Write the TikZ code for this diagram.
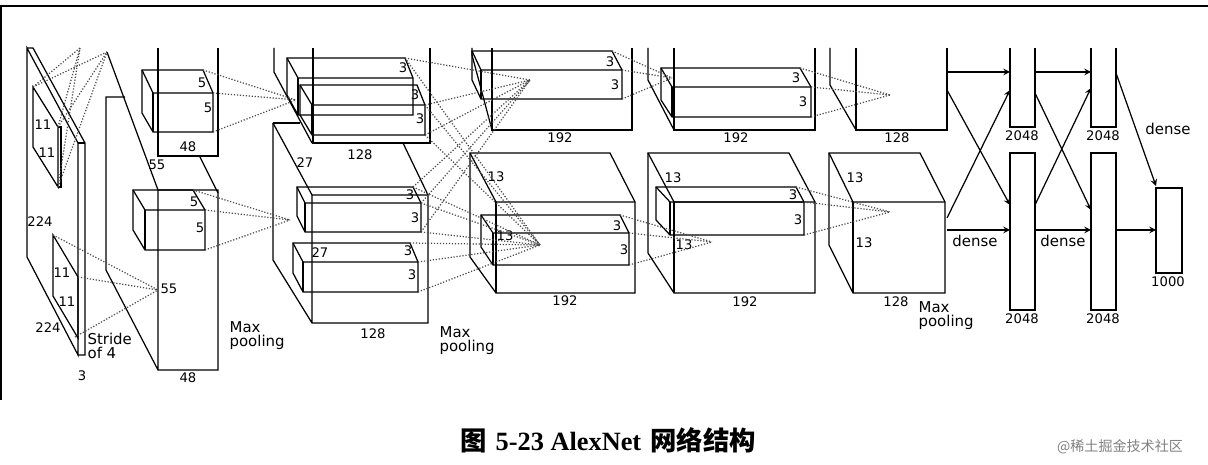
\documentclass[tikz,border=0pt]{standalone}
\usepackage{fontspec}
\setmainfont{DejaVu Sans}
\newfontfamily\cjk{Noto Sans CJK SC}
\newfontfamily\capserif{Liberation Serif}
\begin{document}
\begin{tikzpicture}[x=0.02cm,y=-0.02cm,line width=0.7pt,
  lab/.style={font=\fontsize{7.5}{8}\selectfont,inner sep=0pt},
  big/.style={font=\fontsize{8.5}{10}\selectfont,inner sep=0pt,align=left},
  dots/.style={densely dotted,gray!60!black,line width=0.7pt},
  arr/.style={-stealth}]
\useasboundingbox (0,0) rectangle (1208,465);
% frame
\draw (1,400) -- (1,6) -- (1208,6);
% ---------- input
\draw (27,48) -- (78,143) -- (78,355) -- (27,257) -- cycle;
\draw (27,48) -- (33,48) -- (85,143) -- (85,355) -- (78,355);
\draw (78,143) -- (85,143);
\draw (33,87) -- (58,127) -- (58,187) -- (33,147) -- cycle;
\draw (58,127) -- (61,127) -- (61,187) -- (58,187);
\draw (53,235) -- (78,277) -- (78,338) -- (53,296) -- cycle;
\node[lab] at (43,125) {11}; \node[lab] at (47,153) {11};
\node[lab] at (62,273) {11}; \node[lab] at (67,302) {11};
\node[lab] at (40,222) {224}; \node[lab] at (48,328) {224};
\node[lab] at (82,376) {3};
\node[big,anchor=west] at (87,346) {Stride\\[-2pt]of 4};
% ---------- layer 1
\draw (107,52) -- (158,190);
\draw (158,48) -- (158,156) -- (218,156) -- (218,48);
\draw (125,97) -- (106,97) -- (106,270) -- (158,370) -- (218,370) -- (218,190) -- (158,190) -- (158,370);
\draw (200,157) -- (218,193);
\draw (142,70) -- (203,70) -- (213,93) -- (213,132) -- (153,132) -- (142,113) -- cycle;
\draw (142,70) -- (153,93) -- (213,93); \draw (153,93) -- (153,132);
\draw (133,190) -- (193,190) -- (205,210) -- (205,250) -- (145,250) -- (133,230) -- cycle;
\draw (133,190) -- (145,210) -- (205,210); \draw (145,210) -- (145,250);
\node[lab] at (202,83) {5}; \node[lab] at (208,108) {5};
\node[lab] at (194,202) {5}; \node[lab] at (200,228) {5};
\node[lab] at (157,165) {55}; \node[lab] at (169,289) {55};
\node[lab] at (188,147) {48}; \node[lab] at (188,378) {48};
\node[big,anchor=west] at (229,336) {Max\\[-2pt]pooling};
% ---------- layer 2
\draw (274,48) -- (274,72) -- (312,143);
\draw (313,48) -- (313,143) -- (430,143) -- (430,48);
\draw (273,123) -- (273,260) -- (312,323) -- (428,323) -- (428,195) -- (312,195) -- (312,323);
\draw (273,123) -- (312,195); \draw (273,123) -- (300,123); \draw (403,143) -- (428,195);
\foreach \a/\b/\c/\d/\e/\f in {287/405/58/298/78/115, 300/417/85/312/105/135, 297/413/187/305/203/232, 293/410/243/303/262/292}{
  \draw (\a,\c) -- (\b,\c) -- (\b+8,\e) -- (\b+8,\f) -- (\d,\f) -- (\a,\f-\e+\c) -- cycle;
  \draw (\a,\c) -- (\d,\e) -- (\b+8,\e); \draw (\d,\e) -- (\d,\f);}
\node[lab] at (403,68) {3}; \node[lab] at (415,95) {3}; \node[lab] at (420,119) {3};
\node[lab] at (410,195) {3}; \node[lab] at (415,218) {3};
\node[lab] at (408,251) {3}; \node[lab] at (412,275) {3};
\node[lab] at (305,163) {27}; \node[lab] at (320,253) {27};
\node[lab] at (360,155) {128}; \node[lab] at (373,334) {128};
\node[big,anchor=west] at (439,341) {Max\\[-2pt]pooling};
% ---------- layer 3
\draw (472,48) -- (472,55) -- (492,130);
\draw (492,48) -- (492,130) -- (632,130) -- (632,48);
\draw (470,153) -- (610,153) -- (635,202) -- (635,293) -- (496,293) -- (470,257) -- cycle;
\draw (470,153) -- (496,202) -- (635,202); \draw (496,202) -- (496,293);
\draw (472,51) -- (612,51) -- (622,70) -- (622,99) -- (481,99) -- (472,80) -- cycle;
\draw (472,51) -- (481,70) -- (622,70); \draw (481,70) -- (481,99);
\draw (481,215) -- (620,215) -- (629,233) -- (629,265) -- (493,265) -- (481,247) -- cycle;
\draw (481,215) -- (493,233) -- (629,233); \draw (493,233) -- (493,265);
\node[lab] at (610,62) {3}; \node[lab] at (615,85) {3};
\node[lab] at (617,226) {3}; \node[lab] at (624,250) {3};
\node[lab] at (496,177) {13}; \node[lab] at (505,236) {13};
\node[lab] at (560,138) {192}; \node[lab] at (565,301) {192};
% ---------- layer 4
\draw (648,48) -- (648,80) -- (674,130);
\draw (674,48) -- (674,130) -- (815,130) -- (815,48);
\draw (648,153) -- (789,153) -- (815,202) -- (815,293) -- (674,293) -- (648,253) -- cycle;
\draw (648,153) -- (674,202) -- (815,202); \draw (674,202) -- (674,293);
\draw (661,68) -- (800,68) -- (811,87) -- (811,117) -- (672,117) -- (661,100) -- cycle;
\draw (661,68) -- (672,87) -- (811,87); \draw (672,87) -- (672,117);
\draw (656,187) -- (796,187) -- (804,202) -- (804,235) -- (670,235) -- (656,220) -- cycle;
\draw (656,187) -- (670,202) -- (804,202); \draw (670,202) -- (670,235);
\node[lab] at (796,78) {3}; \node[lab] at (803,102) {3};
\node[lab] at (793,195) {3}; \node[lab] at (798,220) {3};
\node[lab] at (673,178) {13}; \node[lab] at (684,245) {13};
\node[lab] at (736,138) {192}; \node[lab] at (745,302) {192};
% ---------- layer 5
\draw (830,48) -- (830,85) -- (856,130);
\draw (856,48) -- (856,130) -- (947,130) -- (947,48);
\draw (829,153) -- (920,153) -- (945,202) -- (945,293) -- (853,293) -- (829,245) -- cycle;
\draw (829,153) -- (853,202) -- (945,202); \draw (853,202) -- (853,293);
\node[lab] at (855,178) {13}; \node[lab] at (864,243) {13};
\node[lab] at (897,138) {128}; \node[lab] at (896,302) {128};
\node[big,anchor=west] at (918,316) {Max\\[-2pt]pooling};
% ---------- dense
\draw (1010,48) -- (1010,127) -- (1035,127) -- (1035,48);
\draw (1010,153) rectangle (1035,310);
\draw (1091,48) -- (1091,127) -- (1116,127) -- (1116,48);
\draw (1091,153) rectangle (1116,310);
\draw (1156,188) rectangle (1182,273);
\node[lab] at (1022,136) {2048}; \node[lab] at (1022,319) {2048};
\node[lab] at (1103,136) {2048}; \node[lab] at (1103,319) {2048};
\node[lab] at (1168,282) {1000};
\draw[arr] (947,72) -- (1010,72);
\draw[arr] (947,90) -- (1010,205);
\draw[arr] (947,218) -- (1010,90);
\draw[arr] (947,230) -- (1010,230);
\draw[arr] (1035,72) -- (1091,72);
\draw[arr] (1035,93) -- (1091,210);
\draw[arr] (1035,205) -- (1091,88);
\draw[arr] (1035,230) -- (1091,230);
\draw[arr] (1116,73) -- (1156,186);
\draw[arr] (1116,230) -- (1156,230);
\node[big] at (975,241) {dense}; \node[big] at (1063,241) {dense};
\node[big] at (1168,129) {dense};
% ---------- dotted connections
\foreach \p in {(33,87),(58,127),(58,187)} {\draw[dots] \p -- (80,48); \draw[dots] \p -- (107,52);}
\foreach \p in {(53,235),(78,277),(75,337)} \draw[dots] \p -- (158,290);
\foreach \p in {(203,70),(213,93),(213,132)} \draw[dots] \p -- (296,100);
\foreach \p in {(193,190),(205,210),(205,250)} \draw[dots] \p -- (290,220);
\foreach \p in {(405,58),(425,105),(425,135)} {\draw[dots] \p -- (530,80); \draw[dots] \p -- (540,245);}
\foreach \p in {(413,187),(421,203),(421,232)} {\draw[dots] \p -- (530,80); \draw[dots] \p -- (540,245);}
\foreach \p in {(410,243),(418,262),(418,292)} \draw[dots] \p -- (540,245);
\foreach \p in {(612,51),(622,70),(622,99)} \draw[dots] \p -- (672,78);
\foreach \p in {(620,215),(629,233),(629,265)} \draw[dots] \p -- (712,242);
\foreach \p in {(800,68),(811,87),(811,117)} \draw[dots] \p -- (890,95);
\foreach \p in {(796,187),(804,202),(804,235)} \draw[dots] \p -- (890,212);
% ---------- caption
\node[font=\bfseries\fontsize{15}{16}\selectfont] (cap) at (608,440) {{\cjk 图} {\capserif 5-23 AlexNet} {\cjk 网络结构}};
\node[font=\cjk\fontsize{8}{9}\selectfont,text=gray] (wm) at (1120,447) {@稀土掘金技术社区};
\end{tikzpicture}
\end{document}
